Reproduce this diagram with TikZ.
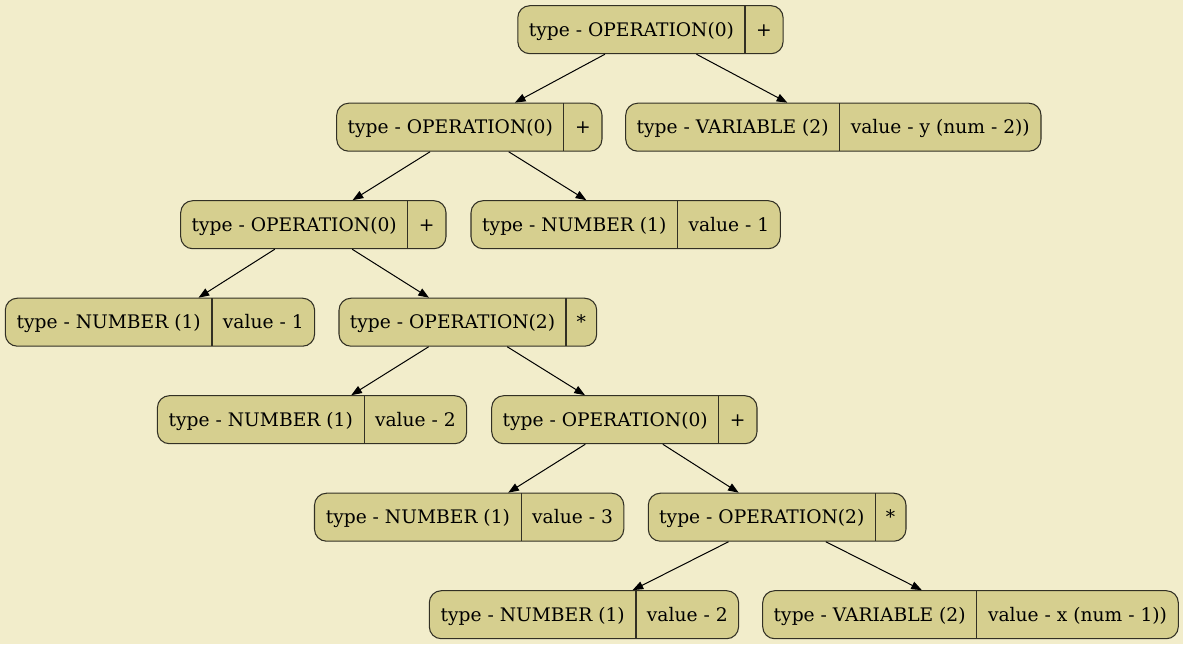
\documentclass[tikz,border=0pt]{standalone}
\usepackage{fontspec}
\setmainfont{DejaVu Serif}
\usetikzlibrary{arrows.meta}
\definecolor{bgc}{RGB}{242,237,203}
\definecolor{fillc}{RGB}{214,207,143}
\definecolor{borderc}{RGB}{50,48,36}
\tikzset{
  recbox/.style={draw=borderc, fill=fillc, line width=0.8pt, rounded corners=9pt, inner sep=0pt, minimum height=36pt},
  divline/.style={draw=borderc, line width=0.8pt},
  lbl/.style={anchor=base, inner sep=0pt, font=\fontsize{14}{17}\selectfont, text=black},
  edge/.style={draw=black, line width=0.75pt, -{Triangle[length=8pt,width=6pt]}}
}
% name, left x, center y, width, divider offset, left text, right text
\newcommand{\rec}[7]{%
  \node[recbox, minimum width={#4*0.75pt}] (#1) at ({#2+#4/2}, #3) {};
  \draw[divline] ({#2+#5}, {#3-24}) -- ({#2+#5}, {#3+24});
  \node[lbl] (#1-l) at ({#2+#5/2}, {#3+6.3}) {#6};
  \node[lbl] (#1-r) at ({#2+(#5+#4)/2}, {#3+6.3}) {#7};
}
\begin{document}
\begin{tikzpicture}[x=0.75pt, y=-0.75pt]
\fill[bgc] (0,0) rectangle (1183,644);
\useasboundingbox (0,0) rectangle (1183,644);
\rec{n1}{517.8}{29.7}{265.3}{227.2}{type - OPERATION(0)}{+}
\rec{n2}{625.7}{127.2}{415.3}{213.8}{type - VARIABLE (2)}{value - y (num - 2))}
\rec{n3}{336.7}{127.2}{265.3}{227.0}{type - OPERATION(0)}{+}
\rec{n4}{180.7}{224.7}{265.3}{226.8}{type - OPERATION(0)}{+}
\rec{n5}{471.0}{224.7}{309.3}{206.6}{type - NUMBER (1)}{value - 1}
\rec{n6}{5.3}{322.2}{309.3}{206.7}{type - NUMBER (1)}{value - 1}
\rec{n7}{339.0}{322.2}{257.7}{227.0}{type - OPERATION(2)}{*}
\rec{n8}{157.4}{419.7}{309.3}{206.7}{type - NUMBER (1)}{value - 2}
\rec{n9}{491.7}{419.7}{265.3}{226.8}{type - OPERATION(0)}{+}
\rec{n10}{314.5}{517.2}{309.3}{206.7}{type - NUMBER (1)}{value - 3}
\rec{n11}{648.3}{517.2}{257.7}{227.0}{type - OPERATION(2)}{*}
\rec{n12}{429.3}{614.7}{309.3}{206.7}{type - NUMBER (1)}{value - 2}
\rec{n13}{762.7}{614.7}{415.6}{214.0}{type - VARIABLE (2)}{value - x (num - 1))}
\draw[edge] (n1) -- (n3);
\draw[edge] (n1) -- (n2);
\draw[edge] (n3) -- (n4);
\draw[edge] (n3) -- (n5);
\draw[edge] (n4) -- (n6);
\draw[edge] (n4) -- (n7);
\draw[edge] (n7) -- (n8);
\draw[edge] (n7) -- (n9);
\draw[edge] (n9) -- (n10);
\draw[edge] (n9) -- (n11);
\draw[edge] (n11) -- (n12);
\draw[edge] (n11) -- (n13);
\end{tikzpicture}
\end{document}
